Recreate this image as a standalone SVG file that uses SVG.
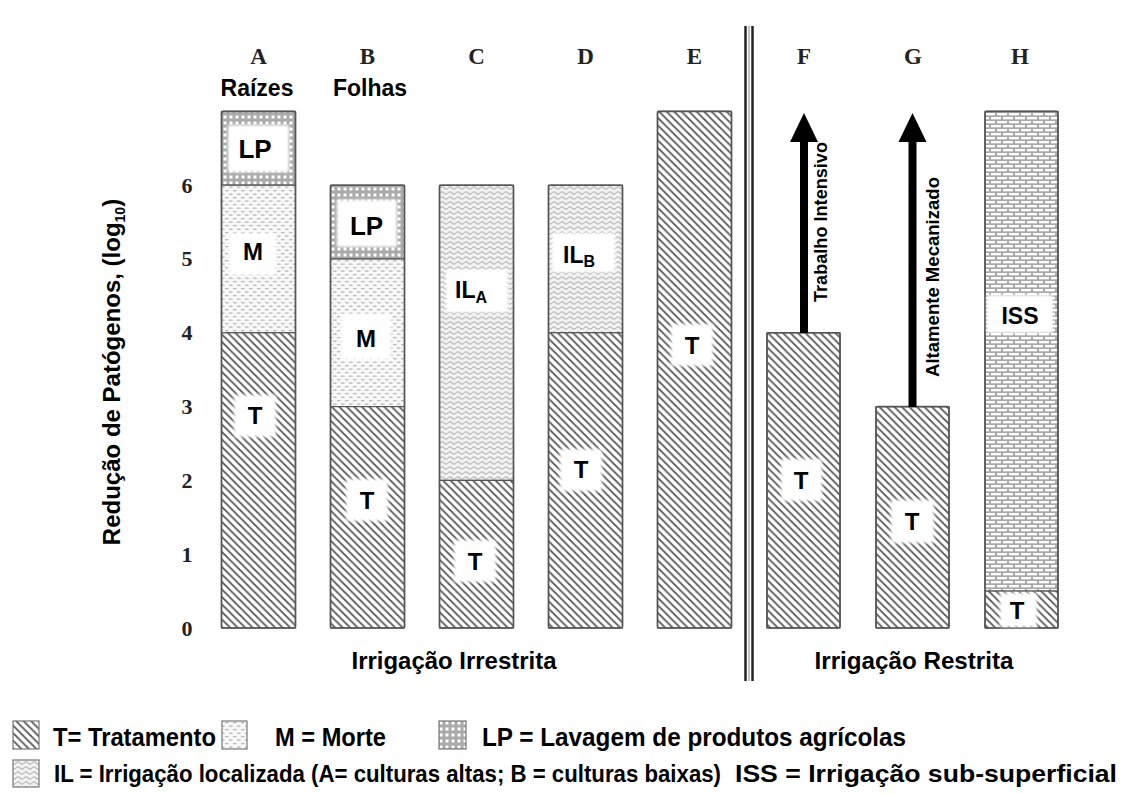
<svg xmlns="http://www.w3.org/2000/svg" width="1131" height="794" viewBox="0 0 1131 794">
<style>
.bar{fill:none;stroke:#555;stroke-width:1.6}
.seg{stroke:#555;stroke-width:1.2}
.lbl{font-family:"Liberation Sans",Arial,sans-serif;font-weight:bold;fill:#000;text-anchor:middle}
.col{font-family:"Liberation Serif","Times New Roman",serif;font-weight:bold;font-size:23px;fill:#222;text-anchor:middle}
.num{font-family:"Liberation Serif","Times New Roman",serif;font-weight:bold;font-size:22px;fill:#222;text-anchor:middle}
.leg{font-family:"Liberation Sans",Arial,sans-serif;font-weight:bold;font-size:25px;fill:#000}
.leg2{font-family:"Liberation Sans",Arial,sans-serif;font-weight:bold;font-size:23px;fill:#000}
.box{fill:#fff;filter:url(#soft)}
.icon{stroke:#777;stroke-width:1.2}
</style>
<defs>
<filter id="soft" x="-20%" y="-20%" width="140%" height="140%"><feGaussianBlur stdDeviation="1.5"/></filter>
<pattern id="pT" width="7.5" height="7.5" patternUnits="userSpaceOnUse">
<rect width="7.5" height="7.5" fill="#fff"/>
<path d="M-2,-2 L9.5,9.5 M-2,5.5 L2,9.5 M5.5,-2 L9.5,2" stroke="#555" stroke-width="1.8"/>
</pattern>
<pattern id="pM" width="8" height="7" patternUnits="userSpaceOnUse">
<rect width="8" height="7" fill="#f7f7f7"/>
<rect x="1" y="1" width="3.5" height="1.3" fill="#bbb"/>
<rect x="5" y="4.5" width="3.5" height="1.3" fill="#bbb"/>
<rect x="-3" y="4.5" width="3.5" height="1.3" fill="#bbb"/>
</pattern>
<pattern id="pLP" width="6" height="6" patternUnits="userSpaceOnUse">
<rect width="6" height="6" fill="#aaa"/>
<rect x="1.5" y="1.5" width="3" height="3" fill="#fff"/>
</pattern>
<pattern id="pIL" width="8" height="5" patternUnits="userSpaceOnUse">
<rect width="8" height="5" fill="#f2f2f2"/>
<path d="M0,3 Q2,0.8 4,3 T8,3" fill="none" stroke="#bbb" stroke-width="1.2"/>
</pattern>
<pattern id="pISS" width="12" height="8" patternUnits="userSpaceOnUse">
<rect width="12" height="8" fill="#a8a8a8"/>
<rect x="1" y="1" width="10" height="2.3" fill="#fff"/>
<rect x="7" y="5" width="10" height="2.3" fill="#fff"/>
<rect x="-5" y="5" width="10" height="2.3" fill="#fff"/>
</pattern>
</defs>
<rect width="1131" height="794" fill="#fff"/>

<g id="column-letters">
<text class="col" x="258.5" y="64">A</text>
<text class="col" x="367.5" y="64">B</text>
<text class="col" x="476.5" y="64">C</text>
<text class="col" x="585.5" y="64">D</text>
<text class="col" x="694.5" y="64">E</text>
<text class="col" x="804" y="64">F</text>
<text class="col" x="913" y="64">G</text>
<text class="col" x="1020" y="64">H</text>
<text class="lbl" x="257" y="96" font-size="23">Raízes</text>
<text class="lbl" x="370" y="96" font-size="23">Folhas</text>
</g>

<g id="y-axis">
<text class="num" x="187" y="193">6</text>
<text class="num" x="187" y="266">5</text>
<text class="num" x="187" y="340">4</text>
<text class="num" x="187" y="414">3</text>
<text class="num" x="187" y="488">2</text>
<text class="num" x="187" y="562">1</text>
<text class="num" x="187" y="636">0</text>
<text class="lbl" font-size="24" transform="translate(112,372) rotate(-90)" x="0" y="8">Redução de Patógenos, (log<tspan font-size="14" dy="5">10</tspan><tspan dy="-5">)</tspan></text>
</g>

<g id="bar-A">
<rect class="seg" x="221.5" y="111.4" width="74" height="73.8" fill="url(#pLP)"/>
<rect class="seg" x="221.5" y="185.2" width="74" height="147.6" fill="url(#pM)"/>
<rect class="seg" x="221.5" y="332.8" width="74" height="295.2" fill="url(#pT)"/>
<rect class="bar" x="221.5" y="111.4" width="74" height="516.6" rx="2"/>
<rect class="box" x="228" y="125" width="61" height="47"/>
<text class="lbl" x="255" y="158" font-size="26">LP</text>
<rect class="box" x="229" y="233" width="47" height="42"/>
<text class="lbl" x="253" y="260" font-size="24">M</text>
<rect class="box" x="234" y="395" width="42" height="42"/>
<text class="lbl" x="255" y="424" font-size="24">T</text>
</g>

<g id="bar-B">
<rect class="seg" x="330.5" y="185.2" width="74" height="73.8" fill="url(#pLP)"/>
<rect class="seg" x="330.5" y="259" width="74" height="147.6" fill="url(#pM)"/>
<rect class="seg" x="330.5" y="406.6" width="74" height="221.4" fill="url(#pT)"/>
<rect class="bar" x="330.5" y="185.2" width="74" height="442.8" rx="2"/>
<rect class="box" x="337" y="200" width="60" height="47"/>
<text class="lbl" x="366.5" y="235" font-size="26">LP</text>
<rect class="box" x="341" y="314" width="50" height="46"/>
<text class="lbl" x="366" y="347" font-size="24">M</text>
<rect class="box" x="346" y="479" width="42" height="42"/>
<text class="lbl" x="367" y="509" font-size="24">T</text>
</g>

<g id="bar-C">
<rect class="seg" x="439.5" y="185.2" width="74" height="295.2" fill="url(#pIL)"/>
<rect class="seg" x="439.5" y="480.4" width="74" height="147.6" fill="url(#pT)"/>
<rect class="bar" x="439.5" y="185.2" width="74" height="442.8" rx="2"/>
<rect class="box" x="446" y="270" width="62" height="42"/>
<text class="lbl" x="455" y="298" font-size="23" style="text-anchor:start">IL<tspan font-size="16" dy="5">A</tspan></text>
<rect class="box" x="454" y="540" width="42" height="42"/>
<text class="lbl" x="475" y="570" font-size="24">T</text>
</g>

<g id="bar-D">
<rect class="seg" x="548.5" y="185.2" width="74" height="147.6" fill="url(#pIL)"/>
<rect class="seg" x="548.5" y="332.8" width="74" height="295.2" fill="url(#pT)"/>
<rect class="bar" x="548.5" y="185.2" width="74" height="442.8" rx="2"/>
<rect class="box" x="552" y="233" width="63" height="39"/>
<text class="lbl" x="563" y="263" font-size="23" style="text-anchor:start">IL<tspan font-size="16" dy="4">B</tspan></text>
<rect class="box" x="560" y="449" width="42" height="42"/>
<text class="lbl" x="581" y="478" font-size="24">T</text>
</g>

<g id="bar-E">
<rect class="seg" x="657.5" y="111.4" width="74" height="516.6" fill="url(#pT)"/>
<rect class="bar" x="657.5" y="111.4" width="74" height="516.6" rx="2"/>
<rect class="box" x="671" y="324" width="42" height="42"/>
<text class="lbl" x="692" y="354" font-size="24">T</text>
</g>

<g id="divider">
<line x1="745.5" y1="26" x2="745.5" y2="681" stroke="#222" stroke-width="2.5"/>
<line x1="749" y1="26" x2="749" y2="681" stroke="#999" stroke-width="1.2"/>
<line x1="752.5" y1="26" x2="752.5" y2="681" stroke="#222" stroke-width="2.5"/>
</g>

<g id="bar-F">
<rect class="seg" x="767" y="332.8" width="73" height="295.2" fill="url(#pT)"/>
<rect class="bar" x="767" y="332.8" width="73" height="295.2" rx="2"/>
<rect class="box" x="781" y="459" width="41" height="42"/>
<text class="lbl" x="801" y="489" font-size="24">T</text>
</g>

<g id="bar-G">
<rect class="seg" x="876" y="406.6" width="73" height="221.4" fill="url(#pT)"/>
<rect class="bar" x="876" y="406.6" width="73" height="221.4" rx="2"/>
<rect class="box" x="891" y="500" width="43" height="43"/>
<text class="lbl" x="912" y="530" font-size="24">T</text>
</g>

<g id="bar-H">
<rect class="seg" x="985" y="111.4" width="73" height="479.7" fill="url(#pISS)"/>
<rect class="seg" x="985" y="591.1" width="73" height="36.9" fill="url(#pT)"/>
<rect class="bar" x="985" y="111.4" width="73" height="516.6" rx="2"/>
<rect class="box" x="987" y="295" width="66" height="38"/>
<text class="lbl" x="1020" y="324" font-size="23">ISS</text>
<rect class="box" x="1000" y="593" width="37" height="34"/>
<text class="lbl" x="1017" y="619" font-size="24">T</text>
</g>

<g id="connectors">
<rect x="800" y="140" width="8" height="193" fill="#000"/>
<polygon points="804,113 818,142 790,142" fill="#000"/>
<rect x="908.5" y="140" width="8" height="267" fill="#000"/>
<polygon points="912.5,113 926.5,142 898.5,142" fill="#000"/>
<text class="lbl" font-size="18" transform="translate(820,222) rotate(-90)" x="0" y="6.5" textLength="160" lengthAdjust="spacingAndGlyphs">Trabalho Intensivo</text>
<text class="lbl" font-size="18" transform="translate(932,277) rotate(-90)" x="0" y="6.5" textLength="200" lengthAdjust="spacingAndGlyphs">Altamente Mecanizado</text>
</g>

<g id="group-labels">
<text class="lbl" x="454" y="669" font-size="24" textLength="205" lengthAdjust="spacingAndGlyphs">Irrigação  Irrestrita</text>
<text class="lbl" x="914" y="669" font-size="24" textLength="199" lengthAdjust="spacingAndGlyphs">Irrigação  Restrita</text>
</g>

<g id="legend">
<rect class="icon" x="13" y="721" width="26" height="28" fill="url(#pT)"/>
<text class="leg" x="53" y="746" textLength="163" lengthAdjust="spacingAndGlyphs">T= Tratamento</text>
<rect class="icon" x="222" y="721" width="25" height="28" fill="url(#pM)"/>
<text class="leg" x="275" y="746" textLength="111" lengthAdjust="spacingAndGlyphs">M = Morte</text>
<rect class="icon" x="439" y="721" width="27" height="28" fill="url(#pLP)"/>
<text class="leg" x="482" y="746" textLength="424" lengthAdjust="spacingAndGlyphs">LP = Lavagem de produtos agrícolas</text>
<rect class="icon" x="13" y="760" width="26" height="27" fill="url(#pIL)"/>
<text class="leg2" x="54" y="782" textLength="667" lengthAdjust="spacingAndGlyphs">IL = Irrigação localizada (A= culturas altas; B = culturas baixas)</text>
<text class="leg2" x="735" y="782" textLength="382" lengthAdjust="spacingAndGlyphs">ISS = Irrigação sub-superficial</text>
</g>
</svg>
